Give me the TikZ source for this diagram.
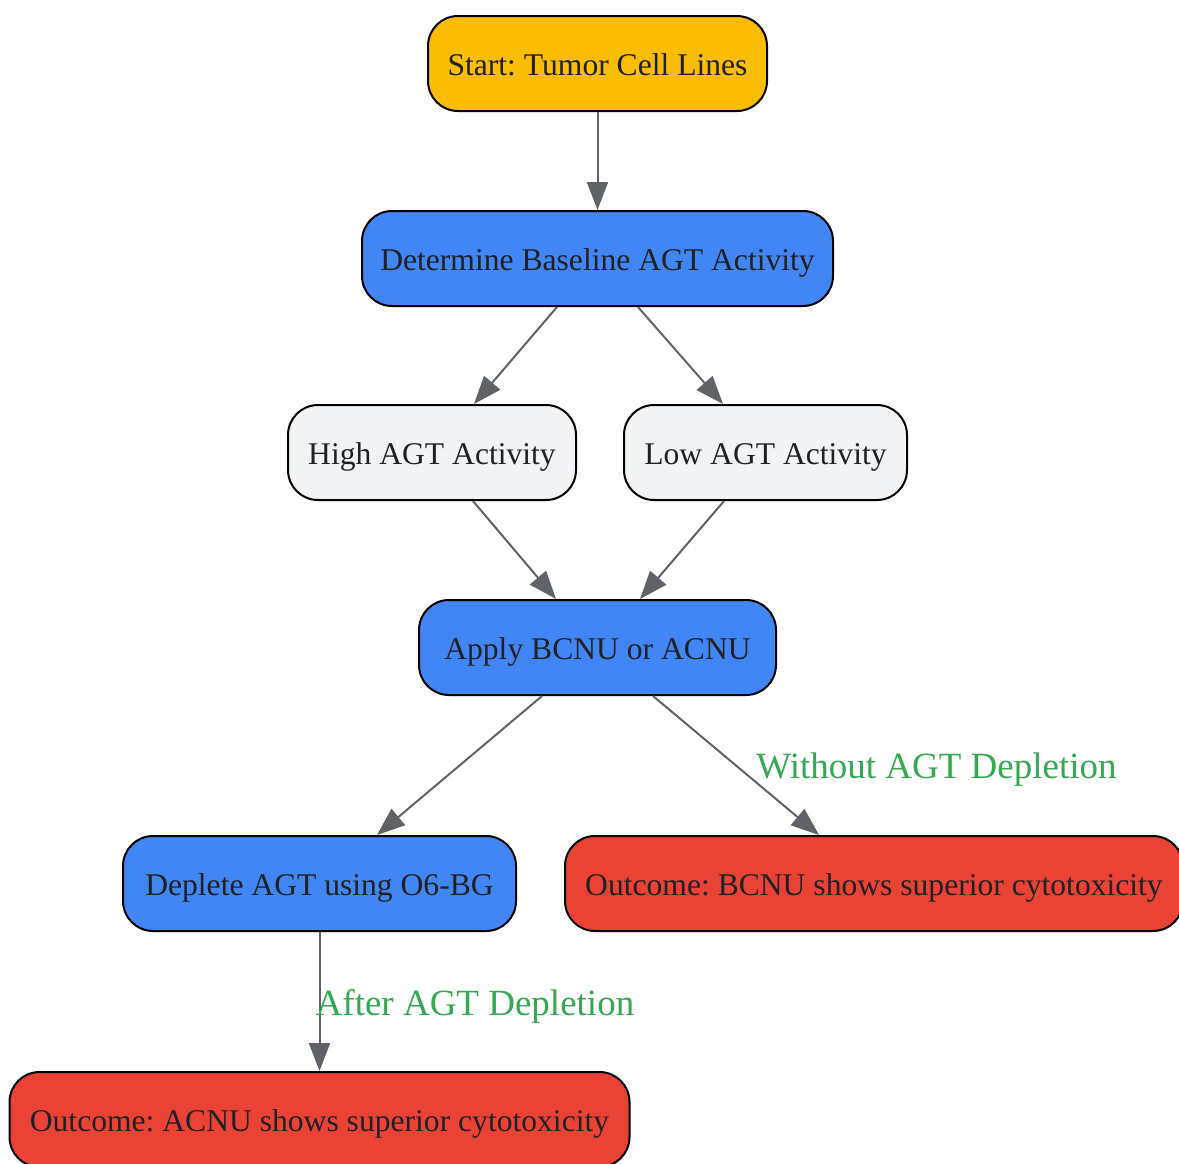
\documentclass[tikz,border=0pt]{standalone}
\usepackage{fontspec}
\setmainfont{Liberation Serif}
\usetikzlibrary{arrows.meta}
\definecolor{cyel}{HTML}{FBBC04}
\definecolor{cblue}{HTML}{4285F4}
\definecolor{cgray}{HTML}{F1F3F4}
\definecolor{cred}{HTML}{EA4335}
\definecolor{ctext}{HTML}{202124}
\definecolor{cedge}{HTML}{5F6368}
\definecolor{cgreen}{HTML}{34A853}
\frenchspacing
\begin{document}
\begin{tikzpicture}[x=1pt,y=1pt,
  box/.style={draw=black, line width=2pt, rounded corners=30pt, minimum height=95pt, inner sep=0pt, text height=30pt, text depth=7pt, font=\fontsize{31.6}{38}\selectfont, text=ctext},
  edge/.style={draw=cedge, line width=2pt, -{Triangle[length=28pt,width=21pt]}},
  elab/.style={font=\fontsize{37}{44}\selectfont, text=cgreen, inner sep=0pt, anchor=base}]
\useasboundingbox (0,0) rectangle (1179,-1163);
\node[box, fill=cyel, minimum width=339pt] (start) at (597.5,-63.5) {Start: Tumor Cell Lines};
\node[box, fill=cblue, minimum width=471pt] (det) at (597.5,-258.5) {Determine Baseline AGT Activity};
\node[box, fill=cgray, minimum width=288pt] (high) at (432,-452.5) {High AGT Activity};
\node[box, fill=cgray, minimum width=283pt] (low) at (765.5,-452.5) {Low AGT Activity};
\node[box, fill=cblue, minimum width=357pt] (apply) at (597.5,-647.5) {Apply BCNU or ACNU};
\node[box, fill=cblue, minimum width=393pt] (dep) at (319.5,-883.5) {Deplete AGT using O6-BG};
\node[box, fill=cred, minimum width=618pt] (bcnu) at (874,-883.5) {Outcome: BCNU shows superior cytotoxicity};
\node[box, fill=cred, minimum width=620pt] (acnu) at (319.5,-1119.5) {Outcome: ACNU shows superior cytotoxicity};
\draw[edge] (start) -- (det);
\draw[edge] ([xshift=-40.5pt]det.south) -- ([xshift=42pt]high.north);
\draw[edge] ([xshift=40.5pt]det.south) -- ([xshift=-42.5pt]low.north);
\draw[edge] ([xshift=41pt]high.south) -- ([xshift=-41.5pt]apply.north);
\draw[edge] ([xshift=-41.5pt]low.south) -- ([xshift=42.5pt]apply.north);
\draw[edge] ([xshift=-55.5pt]apply.south) -- ([xshift=57.5pt]dep.north);
\draw[edge] ([xshift=55.5pt]apply.south) -- ([xshift=-55pt]bcnu.north);
\draw[edge] (dep.south) -- (acnu.north);
\node[elab] (l1) at (936.5,-778) {Without AGT Depletion};
\node[elab] (l2) at (475,-1015) {After AGT Depletion};
\end{tikzpicture}
\end{document}
